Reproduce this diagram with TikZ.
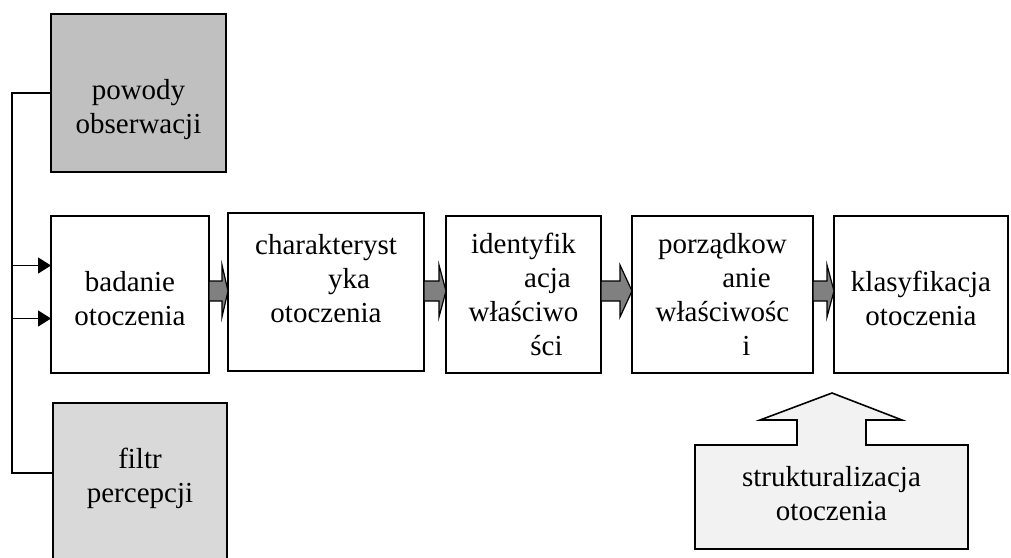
\documentclass[tikz,border=0pt]{standalone}
\usepackage{fontspec}
\setmainfont{Liberation Serif}
\usetikzlibrary{arrows.meta,calc}
\definecolor{gA}{HTML}{C0C0C0}
\definecolor{gB}{HTML}{D9D9D9}
\definecolor{gC}{HTML}{F2F2F2}
\definecolor{gD}{HTML}{808080}
\newcommand{\blockarrow}[3]{%
  \draw[barrow] (#1.east |- st) -- ($(#2.west |- st)+(-#3,0)$) -- ($(#2.west |- ht)+(-#3,0)$)
    -- (#2.west |- mc) -- ($(#2.west |- hb)+(-#3,0)$) -- ($(#2.west |- sb)+(-#3,0)$)
    -- (#1.east |- sb) -- cycle;}
\begin{document}
\begin{tikzpicture}[x=1pt,y=-1pt,
  every node/.style={font=\fontsize{29pt}{34pt}\selectfont, inner sep=0pt, outer sep=0pt},
  box/.style={draw, line width=1.6pt, fill=white},
  txt/.style={align=center, anchor=north},
  conn/.style={line width=1.6pt, -{Triangle[length=13pt,width=16pt]}},
  barrow/.style={draw, line width=1.2pt, fill=gD, line join=miter}]
\clip (0,0) rectangle (1011,557);
\fill[white] (0,0) rectangle (1011,557);
% helper coordinates
\coordinate (lx) at (12,0);
\coordinate (st) at (0,281);
\coordinate (sb) at (0,301);
\coordinate (ht) at (0,265);
\coordinate (hb) at (0,317);
\coordinate (mc) at (0,291);
% boxes
\node[box, fill=gA, minimum width=175pt, minimum height=158pt] (pw) at (138.5,93) {};
\node[box, minimum width=158pt, minimum height=157pt] (b1) at (130,294.5) {};
\node[box, minimum width=196pt, minimum height=158pt] (b2) at (326,292) {};
\node[box, minimum width=155pt, minimum height=157pt] (b3) at (523.5,294.5) {};
\node[box, minimum width=181pt, minimum height=157pt] (b4) at (722.5,294.5) {};
\node[box, minimum width=174pt, minimum height=157pt] (b5) at (921,294.5) {};
\node[box, fill=gB, minimum width=174pt, minimum height=170pt] (ft) at (140,488) {};
% texts
\node[txt] (tpw) at ($(pw.north)+(0,62)$) {\strut powody\\obserwacji};
\node[txt] (tb1) at ($(b1.north)+(0,52)$) {\strut badanie\\otoczenia};
\node[txt] (tb2) at ($(b2.north)+(0,18)$) {\strut charakteryst\\\hspace*{46pt}yka\\otoczenia};
\node[txt] (tb3) at ($(b3.north)+(0,14)$) {\strut identyfik\\\hspace*{48pt}acja\\właściwo\\\hspace*{46pt}ści};
\node[txt] (tb4) at ($(b4.north)+(0,14)$) {\strut porządkow\\\hspace*{48pt}anie\\właściwośc\\\hspace*{48pt}i};
\node[txt] (tb5) at ($(b5.north)+(0,52)$) {\strut klasyfikacja\\otoczenia};
\node[txt] (tft) at ($(ft.north)+(0,42)$) {\strut filtr\\percepcji};
% connectors from left
\coordinate (in1) at ($(b1.west)+(0,24)$);
\coordinate (in2) at ($(b1.west)+(0,-29)$);
\coordinate (out2) at ($(ft.west)+(0,-15)$);
\draw[conn] (pw.west) -- (pw.west -| lx) -- (in1 -| lx) -- (in1);
\draw[conn] (out2) -- (out2 -| lx) -- (in2 -| lx) -- (in2);
% block arrows between boxes
\blockarrow{b1}{b2}{6}
\blockarrow{b2}{b3}{7}
\blockarrow{b3}{b4}{12}
\blockarrow{b4}{b5}{7}
% strukturalizacja shape
\draw[line width=1.6pt, fill=gC, line join=miter]
  (832,393) -- (902,420) -- (866,420) -- (866,445) -- (968,445) -- (968,549)
  -- (695,549) -- (695,445) -- (797,445) -- (797,420) -- (760,420) -- cycle;
\coordinate (skt) at (831.5,445);
\node[txt] (sk) at ($(skt)+(0,18)$) {\strut strukturalizacja\\otoczenia};
\end{tikzpicture}
\end{document}
